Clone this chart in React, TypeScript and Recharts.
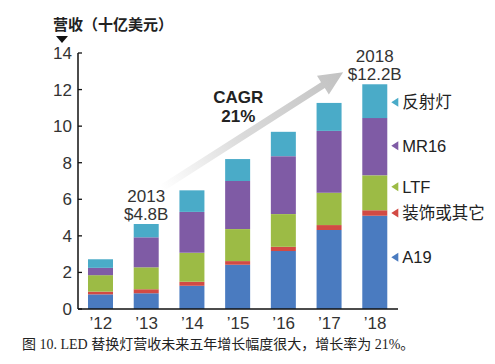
import { Bar, BarChart, LabelList, ReferenceLine, XAxis, YAxis } from 'recharts';

const YEARS = ['\u201912', '\u201913', '\u201914', '\u201915', '\u201916', '\u201917', '\u201918'];
const A19 = [0.8, 0.86, 1.27, 2.42, 3.17, 4.32, 5.1];
const DECOR = [0.15, 0.22, 0.22, 0.2, 0.23, 0.27, 0.3];
const LTF = [0.9, 1.2, 1.58, 1.75, 1.79, 1.77, 1.91];
const MR16 = [0.4, 1.64, 2.24, 2.63, 3.17, 3.38, 3.13];
const REFLECTOR = [0.47, 0.73, 1.18, 1.2, 1.33, 1.53, 1.85];
const Y_TICKS = [0, 2, 4, 6, 8, 10, 12, 14];

const CALLOUT_INDEX = [1, 6];
const CALLOUT_TEXT = [['2013', '$4.8B'], ['2018', '$12.2B']];
const CAGR_TEXT = ['CAGR', '21%'];
const CAGR_FROM = { year: '\u201913', value: 6.6 };
const CAGR_TO = { year: '\u201918', value: 12.95 };

const SERIES = [
    { key: 'a19', name: 'A19', color: '#4a7bc0', dy: -5 },
    { key: 'decor', name: '装饰或其它', color: '#d24a44', dy: 0 },
    { key: 'ltf', name: 'LTF', color: '#9cbb45', dy: -6 },
    { key: 'mr16', name: 'MR16', color: '#7f5ba5', dy: -1 },
    { key: 'reflector', name: '反射灯', color: '#4aabc8', dy: 1 },
];

const DATA = YEARS.map((year, i) => ({
    year,
    a19: A19[i],
    decor: DECOR[i],
    ltf: LTF[i],
    mr16: MR16[i],
    reflector: REFLECTOR[i],
}));

const FONT = '"Liberation Sans", Arial, "Noto Sans CJK SC", sans-serif';
const LAST = YEARS.length - 1;

const YTick = ({ x, y, payload }: any) => (
    <g>
        <line x1={x + 6} x2={x + 10} y1={y} y2={y} stroke="#111" strokeWidth={1.3} />
        <text x={x} y={y} dy={6} textAnchor="end" fontSize={17} fill="#333" fontFamily={FONT}>
            {payload.value}
        </text>
    </g>
);

const seriesTag = (color: string, name: string, dy: number) => (props: any) => {
    const { x, y, width, height, index } = props;
    if (index !== LAST) return null;
    const tx = Number(x) + Number(width) + 4;
    const cy = Number(y) + Number(height) / 2 + dy;
    return (
        <g>
            <polygon points={`${tx},${cy} ${tx + 7},${cy - 4.5} ${tx + 7},${cy + 4.5}`} fill={color} />
            <text x={tx + 11} y={cy} dy={6} fontSize={16.5} fill="#222" fontFamily={FONT}>
                {name}
            </text>
        </g>
    );
};

const callout = (props: any) => {
    const { x, y, width, index } = props;
    const k = CALLOUT_INDEX.indexOf(index);
    if (k < 0) return null;
    const cx = Number(x) + Number(width) / 2;
    return (
        <text x={cx} y={Number(y)} textAnchor="middle" fontSize={17} fill="#333" fontFamily={FONT}>
            <tspan x={cx} dy={-22}>{CALLOUT_TEXT[k][0]}</tspan>
            <tspan x={cx} dy={18}>{CALLOUT_TEXT[k][1]}</tspan>
        </text>
    );
};

const CagrArrow = (props: any) => {
    const sx = props.x1 + 15;
    const sy = props.y1;
    const ex = props.x2 - 32;
    const ey = props.y2;
    const dx = ex - sx;
    const dy = ey - sy;
    const len = Math.hypot(dx, dy);
    const ux = dx / len;
    const uy = dy / len;
    const px = -uy;
    const py = ux;
    const head = 24;
    const hw = 11;
    const sw = 3.5;
    const bx = ex - ux * head;
    const by = ey - uy * head;
    const pts = [
        [sx + px * sw, sy + py * sw],
        [bx + px * sw, by + py * sw],
        [bx + px * hw, by + py * hw],
        [ex, ey],
        [bx - px * hw, by - py * hw],
        [bx - px * sw, by - py * sw],
        [sx - px * sw, sy - py * sw],
    ]
        .map((p) => p.join(','))
        .join(' ');
    const mx = (sx + ex) / 2;
    const my = (sy + ey) / 2;
    return (
        <g>
            <defs>
                <linearGradient id="cagrGrad" gradientUnits="userSpaceOnUse" x1={sx} y1={sy} x2={ex} y2={ey}>
                    <stop offset="0%" stopColor="#ffffff" />
                    <stop offset="45%" stopColor="#dadada" />
                    <stop offset="100%" stopColor="#c2c2c2" />
                </linearGradient>
            </defs>
            <polygon points={pts} fill="url(#cagrGrad)" />
            <text x={mx - 14} y={my} textAnchor="middle" fontSize={17} fontWeight="bold" fill="#222" fontFamily={FONT}>
                <tspan x={mx - 14} dy={-27}>{CAGR_TEXT[0]}</tspan>
                <tspan x={mx - 14} dy={19}>{CAGR_TEXT[1]}</tspan>
            </text>
        </g>
    );
};

export default function App() {
    return (
        <div style={{ position: 'absolute', left: 0, top: 0, width: 495, height: 364, background: '#fff', overflow: 'hidden' }}>
            <BarChart width={495} height={364} data={DATA} margin={{ top: 53, right: 97, left: 0, bottom: 25 }} barSize={25}>
                <XAxis
                    dataKey="year"
                    height={30}
                    tickLine={false}
                    axisLine={{ stroke: '#111', strokeWidth: 1.5 }}
                    tick={{ fontSize: 17, fill: '#333', fontFamily: FONT }}
                    interval={0}
                />
                <YAxis
                    width={78}
                    domain={[0, 14]}
                    ticks={Y_TICKS}
                    tickSize={0}
                    tickMargin={6}
                    tickLine={false}
                    axisLine={{ stroke: '#111', strokeWidth: 1.5 }}
                    tick={<YTick />}
                />
                {SERIES.map((s) => (
                    <Bar key={s.key} dataKey={s.key} name={s.name} stackId="rev" fill={s.color} isAnimationActive={false}>
                        <LabelList dataKey={s.key} content={seriesTag(s.color, s.name, s.dy)} />
                        {s.key === 'reflector' && <LabelList dataKey={s.key} content={callout} />}
                    </Bar>
                ))}
                <ReferenceLine
                    segment={[
                        { x: CAGR_FROM.year, y: CAGR_FROM.value },
                        { x: CAGR_TO.year, y: CAGR_TO.value },
                    ]}
                    shape={<CagrArrow />}
                />
            </BarChart>
            <div style={{ position: 'absolute', left: 53, top: 16, fontSize: 15, lineHeight: '18px', fontWeight: 'bold', color: '#222', fontFamily: FONT }}>
                营收（十亿美元）
            </div>
            <svg style={{ position: 'absolute', left: 55, top: 35 }} width={14} height={10}>
                <polygon points="1,1 13,1 7,8" fill="#111" />
            </svg>
            <div style={{ position: 'absolute', left: 22, top: 336, fontSize: 14, lineHeight: '18px', color: '#222', fontFamily: '"Liberation Serif", "Noto Sans CJK SC", serif', whiteSpace: 'nowrap' }}>
                图 10. LED 替换灯营收未来五年增长幅度很大，增长率为 21%。
            </div>
        </div>
    );
}
